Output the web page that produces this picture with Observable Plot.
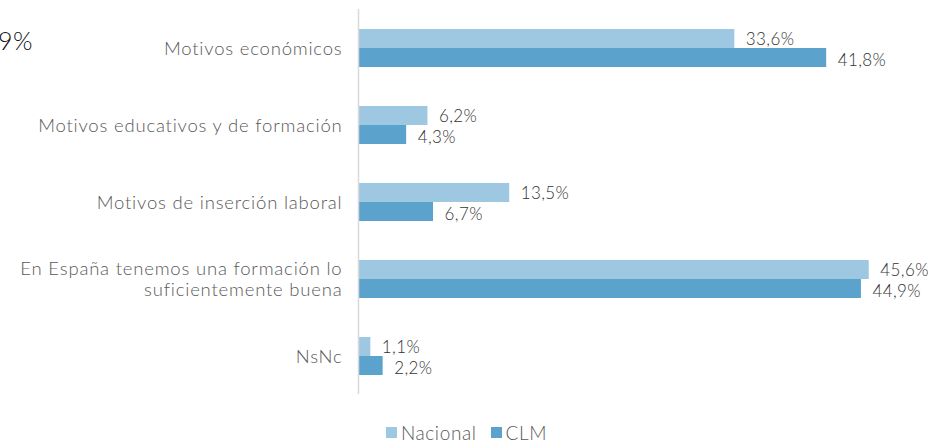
<!DOCTYPE html>
<html>
<head>
<meta charset="utf-8">
<script src="https://cdn.jsdelivr.net/npm/d3@7"></script>
<script src="https://cdn.jsdelivr.net/npm/@observablehq/plot@0.6"></script>
<style>
  body { margin: 0; background: #fff; font-family: Lato, "DejaVu Sans", sans-serif; }
  #wrap { position: relative; width: 933px; height: 440px; overflow: hidden; }
  #cut { position: absolute; left: -2px; top: 25px; font-size: 25px; font-weight: 300; color: #111; letter-spacing: 0.5px; }
  #legend { position: absolute; top: 421px; left: 0; width: 933px; display: flex; justify-content: center; gap: 14px; font-size: 19px; font-weight: 300; letter-spacing: 0.6px; color: #595959; }
  #legend span.item { display: flex; align-items: center; gap: 4px; }
  #legend span.sw { display: inline-block; width: 11px; height: 11px; }
  #chart g[aria-label="fy-axis tick label"] text { letter-spacing: 0.8px; }
  #chart g[aria-label="text"] text { letter-spacing: 0.4px; }
</style>
</head>
<body>
<div id="wrap">
  <div id="chart"></div>
  <div id="cut">9%</div>
  <div id="legend"></div>
</div>
<script>
const categories = [
  "Motivos económicos",
  "Motivos educativos y de formación",
  "Motivos de inserción laboral",
  "En España tenemos una formación lo\nsuficientemente buena",
  "NsNc"
];
const series = ["Nacional", "CLM"];
const nacional = [33.6, 6.2, 13.5, 45.6, 1.1];
const clm = [41.8, 4.3, 6.7, 44.9, 2.2];
const colors = ["#9ec8e2", "#5ba3cd"];

const data = [];
categories.forEach((c, i) => {
  data.push({category: c, series: "Nacional", value: nacional[i]});
  data.push({category: c, series: "CLM", value: clm[i]});
});
const fmt = v => v.toFixed(1).replace(".", ",") + "%";
const nacData = data.filter(d => d.series === "Nacional");
const clmData = data.filter(d => d.series === "CLM");

const chart = Plot.plot({
  width: 933,
  height: 400,
  marginLeft: 358,
  marginRight: 20,
  marginTop: 8,
  marginBottom: 5,
  style: {fontFamily: "Lato, 'DejaVu Sans', sans-serif", color: "#595959"},
  x: {domain: [0, 49.55], axis: null},
  fy: {domain: categories, padding: 0, label: null, axis: null},
  y: {domain: series, paddingInner: 0, paddingOuter: 0.97, axis: null},
  color: {domain: series, range: colors},
  marks: [
    Plot.axisFy({anchor: "left", tickSize: 0, tickPadding: 16, fontSize: 18.5, fontWeight: 300, fill: "#595959", label: null, lineHeight: 1.15}),
    Plot.barX(data, {fy: "category", y: "series", x: "value", fill: "series"}),
    Plot.text(nacData, {fy: "category", y: "series", x: "value", text: d => fmt(d.value), textAnchor: "start", dx: 11, dy: 1, fontSize: 17, fontWeight: 300, fill: "#333"}),
    Plot.text(clmData, {fy: "category", y: "series", x: "value", text: d => fmt(d.value), textAnchor: "start", dx: 11, dy: 3, fontSize: 17, fontWeight: 300, fill: "#333"}),
    Plot.ruleX([0], {stroke: "#d9d9d9", strokeWidth: 1.5})
  ]
});
document.getElementById("chart").appendChild(chart);

const legend = document.getElementById("legend");
series.forEach((s, i) => {
  const item = document.createElement("span");
  item.className = "item";
  item.innerHTML = `<span class="sw" style="background:${colors[i]}"></span>${s}`;
  legend.appendChild(item);
});
</script>
</body>
</html>
